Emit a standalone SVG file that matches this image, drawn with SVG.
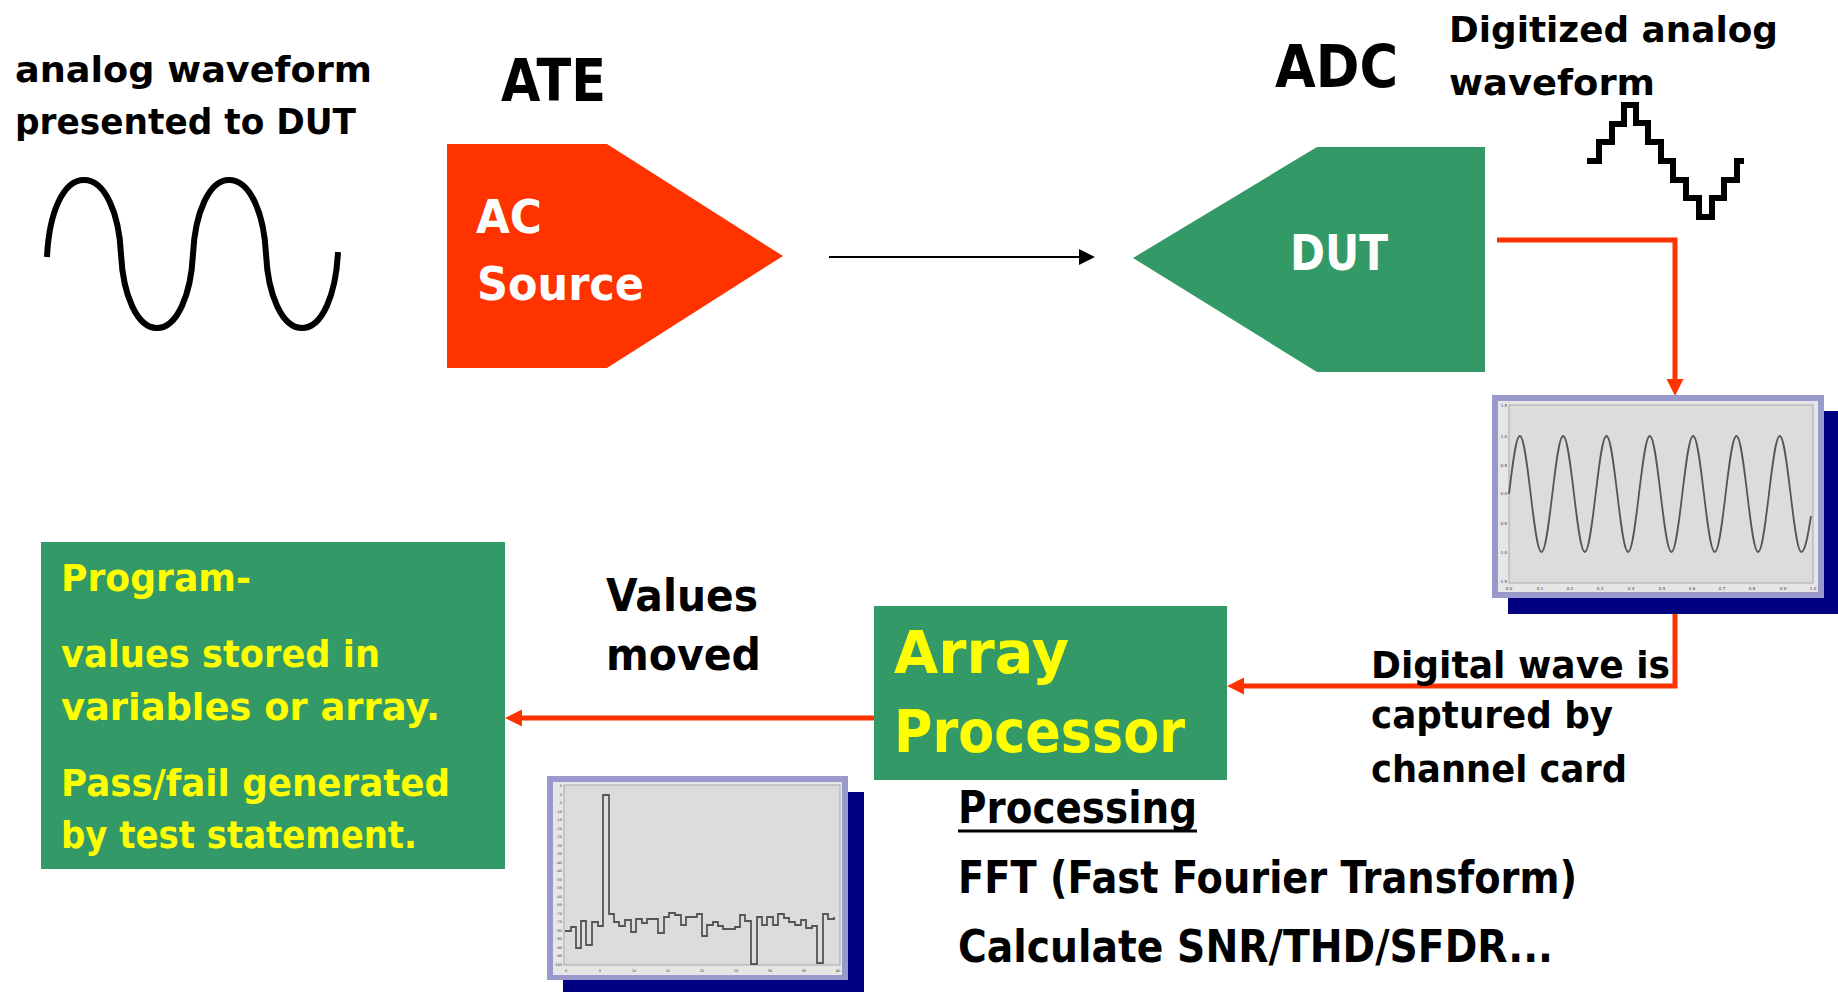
<svg xmlns="http://www.w3.org/2000/svg" width="1838" height="992" viewBox="0 0 1838 992">
<defs>
<style>
.t{font-family:"DejaVu Sans","Liberation Sans",sans-serif;font-weight:bold}
.blk{fill:#000}
.wht{fill:#fff}
.yel{fill:#FFFF00}
.grn{fill:#339966}
.red{stroke:#FF3300;stroke-width:5;fill:none}
.wave{fill:none;stroke:#000;stroke-width:6}
.frame{fill:#9999CC}
.shadow{fill:#000080}
.inner{fill:#E6E6E6}
.plot{fill:#DCDCDC;stroke:#A8A8A8;stroke-width:1}
.trace{fill:none;stroke:#555;stroke-width:1.8}
.tick{font-family:"DejaVu Sans",sans-serif;font-size:4px;fill:#333}
</style>
<marker id="arrRed" viewBox="0 0 17 17" refX="7" refY="8.5" markerWidth="17" markerHeight="17" markerUnits="userSpaceOnUse" orient="auto">
<path d="M0,0 L17,8.5 L0,17 Z" fill="#FF3300"/>
</marker>
<marker id="arrBlk" viewBox="0 0 16 16" refX="6" refY="8" markerWidth="16" markerHeight="16" markerUnits="userSpaceOnUse" orient="auto">
<path d="M0,0 L16,8 L0,16 Z" fill="#000"/>
</marker>
</defs>

<rect width="1838" height="992" fill="#fff"/>

<g id="analog-label">
<text class="t blk" x="15" y="82" font-size="36" textLength="357" lengthAdjust="spacingAndGlyphs">analog waveform</text>
<text class="t blk" x="15" y="134" font-size="36" textLength="341" lengthAdjust="spacingAndGlyphs">presented to DUT</text>
</g>

<g id="analog-wave">
<path class="wave" d="M47,257 c2,-44 16,-77 37,-77 c21,0 35,33 37,74 c2,41 16,74 36,74 c20,0 34,-33 36,-74 c2,-41 16,-74 36,-74 c21,0 35,33 37,74 c2,41 16,74 36,74 c20,0 34,-33 36,-76"/>
</g>

<g id="ate-label">
<text class="t blk" x="501" y="101" font-size="58" textLength="105" lengthAdjust="spacingAndGlyphs">ATE</text>
</g>

<g id="ac-source">
<polygon points="447,144 607,144 783,256 607,368 447,368" fill="#FF3300"/>
<text class="t wht" x="476" y="233" font-size="47" textLength="66" lengthAdjust="spacingAndGlyphs">AC</text>
<text class="t wht" x="477" y="300" font-size="47" textLength="167" lengthAdjust="spacingAndGlyphs">Source</text>
</g>

<g id="adc-label">
<text class="t blk" x="1275" y="87" font-size="58" textLength="123" lengthAdjust="spacingAndGlyphs">ADC</text>
</g>

<g id="dut">
<polygon class="grn" points="1133,258 1317,147 1485,147 1485,372 1317,372"/>
<text class="t wht" x="1290" y="270" font-size="50" textLength="98" lengthAdjust="spacingAndGlyphs">DUT</text>
</g>

<g id="digitized-label">
<text class="t blk" x="1449" y="42" font-size="35" textLength="329" lengthAdjust="spacingAndGlyphs">Digitized analog</text>
<text class="t blk" x="1449" y="95" font-size="35" textLength="206" lengthAdjust="spacingAndGlyphs">waveform</text>
</g>

<g id="digitized-wave">
<path class="wave" d="M1587,161 H1599 V142 H1612 V124 H1624 V105 H1636 V123 H1648 V142 H1661 V161 H1673 V180 H1686 V198 H1699 V217 H1712 V198 H1724 V180 H1737 V161 H1744"/>
</g>

<g id="connectors">
<path d="M829,257 H1085" stroke="#000" stroke-width="2" fill="none" marker-end="url(#arrBlk)"/>
<path class="red" d="M1497,240 H1675 V386" marker-end="url(#arrRed)"/>
<path class="red" d="M1675,614 V686 H1237" marker-end="url(#arrRed)"/>
<path class="red" d="M874,718 H515" marker-end="url(#arrRed)"/>
</g>

<g id="chart-time">
<rect class="shadow" x="1508" y="411" width="330" height="203"/>
<rect class="frame" x="1492" y="395" width="332" height="203"/>
<rect class="inner" x="1498" y="401" width="320" height="191"/>
<rect class="plot" x="1509" y="405" width="304" height="178"/>
<path class="trace" d="M1509,494 c3.62,-30.46 6.93,-58 10.83,-58 c3.9,0 7.21,27.54 10.83,58 c3.62,30.46 6.93,58 10.83,58 c3.9,0 7.21,-27.54 10.83,-58 c3.62,-30.46 6.93,-58 10.83,-58 c3.9,0 7.21,27.54 10.83,58 c3.62,30.46 6.93,58 10.83,58 c3.9,0 7.21,-27.54 10.83,-58 c3.62,-30.46 6.93,-58 10.83,-58 c3.9,0 7.21,27.54 10.83,58 c3.62,30.46 6.93,58 10.83,58 c3.9,0 7.21,-27.54 10.83,-58 c3.62,-30.46 6.93,-58 10.83,-58 c3.9,0 7.21,27.54 10.83,58 c3.62,30.46 6.93,58 10.83,58 c3.9,0 7.21,-27.54 10.83,-58 c3.62,-30.46 6.93,-58 10.83,-58 c3.9,0 7.21,27.54 10.83,58 c3.62,30.46 6.93,58 10.83,58 c3.9,0 7.21,-27.54 10.83,-58 c3.62,-30.46 6.93,-58 10.83,-58 c3.9,0 7.21,27.54 10.83,58 c3.62,30.46 6.93,58 10.83,58 c3.9,0 7.21,-27.54 10.83,-58 c3.62,-30.46 6.93,-58 10.83,-58 c3.9,0 7.21,27.54 10.83,58 c3.62,30.46 6.93,58 10.83,58 c3.5,0 6.5,-16 9.6,-36"/>
<g class="tick" text-anchor="end">
<text x="1507" y="407">1.5</text>
<text x="1507" y="438">1.0</text>
<text x="1507" y="467">0.5</text>
<text x="1507" y="495">0.0</text>
<text x="1507" y="525">-0.5</text>
<text x="1507" y="554">-1.0</text>
<text x="1507" y="583">-1.5</text>
</g>
<g class="tick" text-anchor="middle">
<text x="1509" y="590">0.0</text>
<text x="1540" y="590">0.1</text>
<text x="1570" y="590">0.2</text>
<text x="1600" y="590">0.3</text>
<text x="1631" y="590">0.4</text>
<text x="1662" y="590">0.5</text>
<text x="1692" y="590">0.6</text>
<text x="1722" y="590">0.7</text>
<text x="1752" y="590">0.8</text>
<text x="1783" y="590">0.9</text>
<text x="1813" y="590">1.0</text>
</g>
</g>

<g id="array-processor">
<rect class="grn" x="874" y="606" width="353" height="174"/>
<text class="t yel" x="894" y="673" font-size="58" textLength="175" lengthAdjust="spacingAndGlyphs">Array</text>
<text class="t yel" x="894" y="752" font-size="58" textLength="291" lengthAdjust="spacingAndGlyphs">Processor</text>
</g>

<g id="values-moved-label">
<text class="t blk" x="606" y="611" font-size="45" textLength="152" lengthAdjust="spacingAndGlyphs">Values</text>
<text class="t blk" x="606" y="670" font-size="45" textLength="155" lengthAdjust="spacingAndGlyphs">moved</text>
</g>

<g id="program-box">
<rect class="grn" x="41" y="542" width="464" height="327"/>
<text class="t yel" x="61" y="591" font-size="38" textLength="190" lengthAdjust="spacingAndGlyphs">Program-</text>
<text class="t yel" x="61" y="667" font-size="38" textLength="319" lengthAdjust="spacingAndGlyphs">values stored in</text>
<text class="t yel" x="61" y="720" font-size="38" textLength="379" lengthAdjust="spacingAndGlyphs">variables or array.</text>
<text class="t yel" x="61" y="796" font-size="38" textLength="389" lengthAdjust="spacingAndGlyphs">Pass/fail generated</text>
<text class="t yel" x="61" y="848" font-size="38" textLength="356" lengthAdjust="spacingAndGlyphs">by test statement.</text>
</g>

<g id="chart-spectrum">
<rect class="shadow" x="563" y="792" width="301" height="200"/>
<rect class="frame" x="547" y="776" width="301" height="204"/>
<rect class="inner" x="553" y="782" width="289" height="193"/>
<rect class="plot" x="564" y="785" width="276" height="180"/>
<path class="trace" d="M565,931 H571 V927 H576 V948 H581 V921 H586 V945 H592 V922 H598 V926 H603 V795 H609 V914 H614 V922 H619 V926 H625 V920 H631 V932 H636 V919 H642 V923 H647 V919 H658 V933 H664 V917 H669 V913 H675 V915 H681 V925 H686 V917 H697 V914 H702 V936 H707 V925 H713 V922 H718 V926 H723 V929 H735 V927 H740 V915 H745 V921 H751 V964 H757 V917 H762 V925 H767 V917 H773 V925 H778 V914 H784 V918 H789 V922 H795 V925 H801 V920 H806 V928 H812 V926 H817 V963 H823 V914 H828 V919 H834 V917"/>
<g class="tick" text-anchor="end" style="font-size:3.5px">
<text x="562" y="787">5</text>
<text x="562" y="795.5">0</text>
<text x="562" y="804">-5</text>
<text x="562" y="812.5">-10</text>
<text x="562" y="821">-15</text>
<text x="562" y="829.5">-20</text>
<text x="562" y="838">-25</text>
<text x="562" y="846.5">-30</text>
<text x="562" y="855">-35</text>
<text x="562" y="863.5">-40</text>
<text x="562" y="872">-45</text>
<text x="562" y="880.5">-50</text>
<text x="562" y="889">-55</text>
<text x="562" y="897.5">-60</text>
<text x="562" y="906">-65</text>
<text x="562" y="914.5">-70</text>
<text x="562" y="923">-75</text>
<text x="562" y="931.5">-80</text>
<text x="562" y="940">-85</text>
<text x="562" y="948.5">-90</text>
<text x="562" y="957">-95</text>
<text x="562" y="965.5">-100</text>
</g>
<g class="tick" text-anchor="middle" style="font-size:3.5px">
<text x="566" y="972">0</text>
<text x="600" y="972">5</text>
<text x="634" y="972">10</text>
<text x="668" y="972">15</text>
<text x="702" y="972">20</text>
<text x="736" y="972">25</text>
<text x="770" y="972">30</text>
<text x="804" y="972">35</text>
<text x="838" y="972">40</text>
</g>
</g>

<g id="capture-label">
<text class="t blk" x="1371" y="678" font-size="38" textLength="299" lengthAdjust="spacingAndGlyphs">Digital wave is</text>
<text class="t blk" x="1371" y="728" font-size="38" textLength="242" lengthAdjust="spacingAndGlyphs">captured by</text>
<text class="t blk" x="1371" y="782" font-size="38" textLength="256" lengthAdjust="spacingAndGlyphs">channel card</text>
</g>

<g id="processing-text">
<text class="t blk" x="958" y="823" font-size="44" textLength="239" lengthAdjust="spacingAndGlyphs">Processing</text>
<line x1="958" y1="831" x2="1197" y2="831" stroke="#000" stroke-width="3"/>
<text class="t blk" x="958" y="893" font-size="44" textLength="619" lengthAdjust="spacingAndGlyphs">FFT (Fast Fourier Transform)</text>
<text class="t blk" x="958" y="962" font-size="44" textLength="595" lengthAdjust="spacingAndGlyphs">Calculate SNR/THD/SFDR...</text>
</g>
</svg>
